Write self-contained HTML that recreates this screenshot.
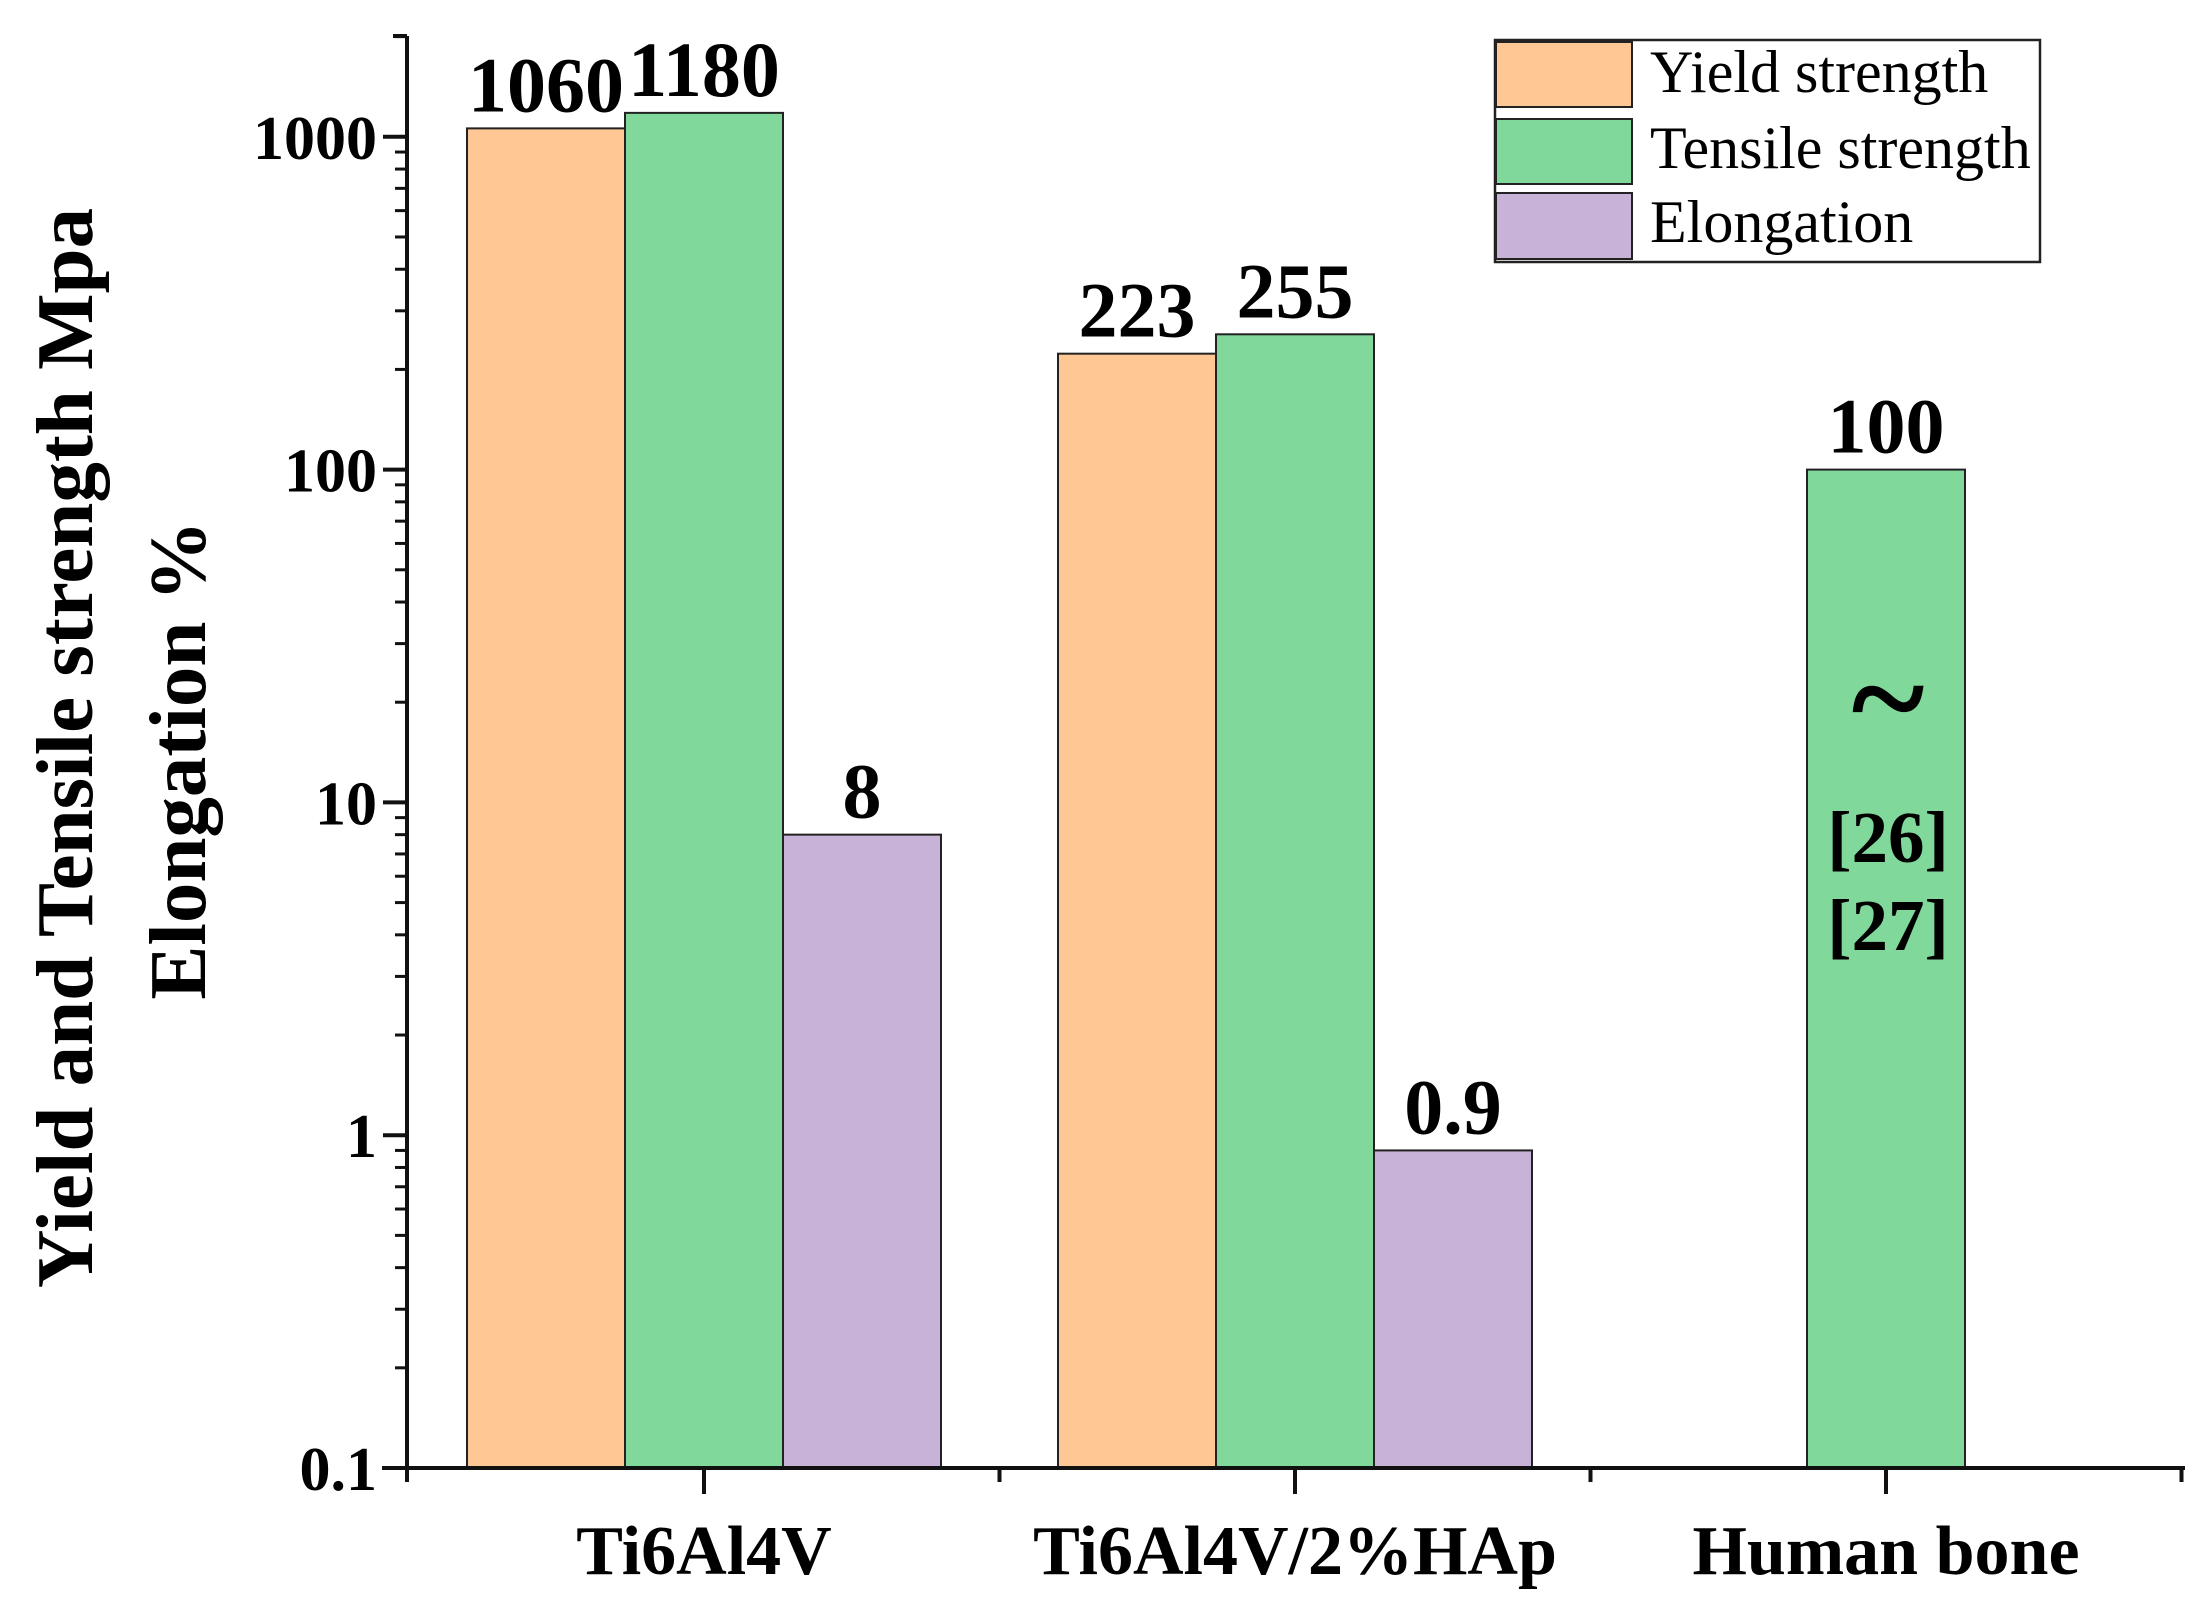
<!DOCTYPE html>
<html><head><meta charset="utf-8"><style>
html,body{margin:0;padding:0;background:#fff;}
svg{display:block;}
text{font-family:"Liberation Serif","Times New Roman",serif;}
</style></head><body>
<svg id="chart" width="2208" height="1613" viewBox="0 0 2208 1613">
<g id="bars"></g>
<g id="axes"></g>
<g id="labels"></g>
<text transform="translate(92,748) rotate(-90)" text-anchor="middle" font-size="81" font-weight="bold">Yield and Tensile strength Mpa</text>
<text transform="translate(205,760) rotate(-90)" text-anchor="middle" font-size="81" font-weight="bold">Elongation %</text>
<g font-weight="bold" text-anchor="middle">
<text x="1888" y="745" font-size="140">~</text>
<text x="1888" y="862" font-size="73">[26]</text>
<text x="1888" y="950" font-size="73">[27]</text>
</g>
<g>
<rect x="1495" y="40" width="545" height="222" fill="#fff" stroke="#222" stroke-width="2.5"/>
<g><rect x="1496" y="42" width="136" height="65" fill="#FEC794" stroke="#222" stroke-width="2"/><text x="1650" y="92" font-size="60">Yield strength</text></g>
<g><rect x="1496" y="119" width="136" height="65" fill="#80D99B" stroke="#222" stroke-width="2"/><text x="1650" y="168" font-size="60">Tensile strength</text></g>
<g><rect x="1496" y="193" width="136" height="66" fill="#C9B2D7" stroke="#222" stroke-width="2"/><text x="1650" y="242" font-size="60">Elongation</text></g>
</g>
</svg>
<script>
const categories = ["Ti6Al4V", "Ti6Al4V/2%HAp", "Human bone"];
const yieldVals = [1060, 223, null];
const tensileVals = [1180, 255, 100];
const elongVals = [8, 0.9, null];
const yTicks = [0.1, 1, 10, 100, 1000];
const yTickLabels = ["0.1", "1", "10", "100", "1000"];

const NS = "http://www.w3.org/2000/svg";
const X0 = 407, X1 = 2185, YB = 1468, DEC = 332.8, CAT0 = 704, CATW = 591, BW = 158;
function yScale(v){ return YB - (Math.log10(v) + 1) * DEC; }
function xCenter(i){ return CAT0 + CATW * i; }
function mk(tag, attrs, parent){ const e = document.createElementNS(NS, tag); for (const k in attrs) e.setAttribute(k, attrs[k]); parent.appendChild(e); return e; }
const bars = document.getElementById('bars'), axes = document.getElementById('axes'), labels = document.getElementById('labels');
const series = [[yieldVals, "#FEC794", "yield", -1], [tensileVals, "#80D99B", "tensile", 0], [elongVals, "#C9B2D7", "elongation", 1]];
series.forEach(([vals, col, nm, off]) => {
  vals.forEach((v, i) => {
    if (v == null) return;
    const cx = xCenter(i) + off * BW;
    const y = yScale(v);
    const r = mk('rect', {x: cx - BW/2, y: y, width: BW, height: YB - y, fill: col, stroke: "#222", "stroke-width": 2}, bars);
    
    
    const t = mk('text', {x: cx, y: y - 17, "text-anchor": "middle", "font-size": 78, "font-weight": "bold"}, labels);
    t.textContent = String(v);
    
    
  });
});
const ya = mk('line', {x1: X0, y1: 36, x2: X0, y2: YB + 3, stroke: "#111", "stroke-width": 4}, axes);


const xa = mk('line', {x1: X0 - 25, y1: YB, x2: X1, y2: YB, stroke: "#111", "stroke-width": 4}, axes);


mk('line', {x1: X0 - 14, y1: 36, x2: X0, y2: 36, stroke: "#111", "stroke-width": 4}, axes);
yTicks.forEach((v, k) => {
  const y = yScale(v);
  mk('line', {x1: X0 - 24, y1: y, x2: X0, y2: y, stroke: "#111", "stroke-width": 4}, axes);
  const t = mk('text', {x: X0 - 30, y: y + 22, "text-anchor": "end", "font-size": 62, "font-weight": "bold"}, axes);
  t.textContent = yTickLabels[k];
  
  
  for (let m = 2; m <= 9; m++) {
    const ym = yScale(v * m);
    if (ym < 36) continue;
    mk('line', {x1: X0 - 12, y1: ym, x2: X0, y2: ym, stroke: "#111", "stroke-width": 3}, axes);
  }
});
categories.forEach((c, i) => {
  const x = xCenter(i);
  mk('line', {x1: x, y1: YB, x2: x, y2: YB + 26, stroke: "#111", "stroke-width": 4}, axes);
  mk('line', {x1: x + CATW/2, y1: YB, x2: x + CATW/2, y2: YB + 14, stroke: "#111", "stroke-width": 4}, axes);
  const t = mk('text', {x: x, y: 1574, "text-anchor": "middle", "font-size": 70, "font-weight": "bold"}, axes);
  t.textContent = c;
  
  
});
mk('line', {x1: X0, y1: YB, x2: X0, y2: YB + 14, stroke: "#111", "stroke-width": 4}, axes);
</script>
</body></html>
